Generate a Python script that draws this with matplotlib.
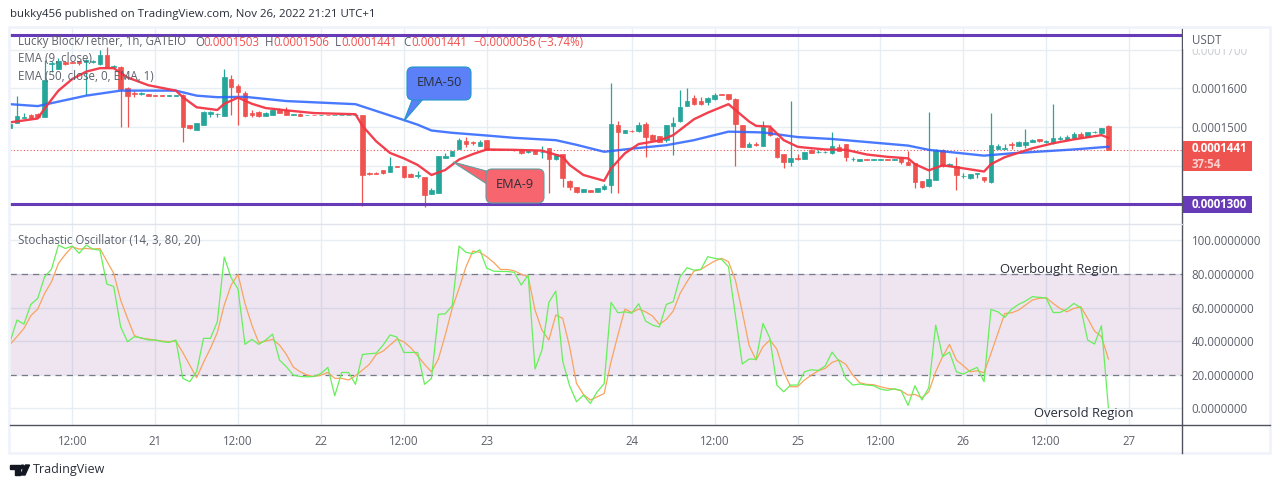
import matplotlib
matplotlib.use('Agg')
import matplotlib.pyplot as plt
from matplotlib.patches import Rectangle, FancyBboxPatch, Polygon, Circle
from matplotlib.lines import Line2D
from matplotlib.transforms import Affine2D
import numpy as np

plt.rcParams['font.family'] = ['Open Sans', 'DejaVu Sans']

# hourly candles, prices in 1e-7 USDT
opens = [1498,1511,1524,1532,1533,1527,1664,1649,1668,1668,1670,1667,1667,1663,1685,1655,1656,1602,1587,1584,
         1585,1583,1582,1581,1581,1582,1504,1493,1505,1534,1533,1529,1624,1607,1587,1537,1539,1529,1532,1545,
         1544,1532,1534,1530,1531,1530,1531,1530,1530,1530,1530,1531,1382,1382,1389,1384,1399,1399,1379,1374,
         1371,1328,1330,1421,1425,1443,1463,1461,1452,1466,1442,1442,1440,1441,1441,1435,1439,1435,1445,1417,
         1430,1361,1345,1333,1336,1333,1340,1351,1505,1485,1490,1490,1508,1480,1477,1466,1503,1515,1554,1575,
         1566,1565,1572,1584,1584,1572,1505,1449,1456,1451,1498,1472,1430,1410,1419,1418,1441,1435,1435,1434,
         1448,1456,1417,1413,1417,1416,1416,1417,1416,1422,1410,1406,1360,1348,1364,1441,1399,1399,1373,1368,
         1379,1371,1358,1443,1444,1455,1451,1454,1461,1468,1460,1458,1468,1467,1472,1482,1475,1486,1484,1503]
highs = [1508,1580,1535,1533,1537,1673,1670,1678,1669,1669,1671,1675,1672,1699,1706,1660,1657,1603,1594,1591,
         1586,1583,1583,1582,1582,1584,1505,1511,1541,1541,1537,1649,1634,1611,1594,1544,1542,1538,1546,1548,
         1551,1533,1535,1532,1532,1531,1532,1531,1531,1531,1531,1532,1383,1383,1390,1422,1400,1400,1380,1387,
         1372,1342,1426,1432,1438,1472,1473,1465,1466,1467,1443,1442,1442,1442,1442,1440,1440,1451,1446,1430,
         1431,1362,1346,1340,1337,1343,1353,1613,1515,1493,1491,1512,1512,1482,1478,1505,1527,1596,1602,1582,
         1577,1577,1587,1585,1586,1574,1506,1460,1462,1515,1505,1473,1431,1567,1429,1436,1442,1441,1437,1487,
         1456,1457,1422,1418,1418,1418,1418,1418,1418,1423,1439,1407,1361,1539,1442,1442,1408,1423,1380,1379,
         1380,1372,1536,1456,1456,1460,1464,1495,1468,1469,1466,1559,1478,1479,1487,1487,1487,1490,1498,1506]
lows = [1498,1511,1522,1523,1522,1527,1643,1649,1660,1665,1660,1583,1665,1661,1654,1652,1501,1501,1577,1583,
        1579,1581,1581,1581,1581,1462,1496,1492,1504,1527,1525,1529,1531,1505,1527,1525,1527,1528,1531,1535,
        1530,1531,1529,1530,1530,1530,1530,1530,1530,1530,1530,1296,1376,1378,1379,1383,1396,1369,1371,1367,
        1294,1328,1330,1420,1424,1443,1449,1454,1451,1440,1441,1440,1440,1439,1431,1434,1430,1421,1330,1416,
        1346,1336,1329,1332,1332,1332,1336,1330,1330,1484,1488,1487,1423,1465,1460,1462,1428,1514,1553,1558,
        1558,1558,1571,1582,1571,1398,1448,1448,1451,1450,1478,1421,1393,1400,1415,1417,1433,1434,1434,1430,
        1438,1412,1411,1412,1415,1415,1415,1415,1415,1404,1401,1343,1343,1346,1363,1396,1398,1336,1367,1366,
        1367,1358,1356,1442,1444,1442,1450,1445,1460,1460,1459,1457,1467,1466,1471,1471,1474,1485,1483,1441]
closes = [1508,1528,1525,1524,1527,1621,1666,1671,1664,1666,1665,1673,1670,1685,1654,1657,1599,1580,1586,1589,
          1580,1581,1581,1582,1582,1501,1497,1510,1540,1540,1534,1628,1603,1590,1528,1532,1528,1537,1544,1536,
          1531,1533,1529,1531,1530,1531,1530,1531,1531,1531,1531,1377,1379,1379,1380,1399,1397,1370,1372,1375,
          1324,1336,1425,1425,1437,1466,1456,1458,1462,1441,1441,1441,1441,1440,1432,1439,1431,1436,1417,1429,
          1367,1345,1332,1339,1333,1342,1348,1508,1488,1492,1489,1505,1474,1466,1462,1504,1510,1552,1566,1559,
          1559,1575,1583,1582,1572,1509,1449,1456,1454,1501,1479,1423,1410,1419,1418,1435,1434,1436,1436,1451,
          1439,1422,1418,1417,1416,1417,1417,1416,1417,1410,1402,1359,1345,1365,1441,1398,1404,1376,1374,1378,
          1380,1363,1453,1451,1445,1454,1460,1461,1467,1464,1465,1471,1472,1474,1482,1473,1486,1487,1497,1441]

# moving averages read at the bends only
ema9_bars = [0,4,5,7,9,11,13,15,17,20,24,25,27,30,31,33,35,37,40,44,50,51,53,55,57,59,61,63,65,67,69,73,77,80,81,
             83,86,87,89,91,94,96,99,101,104,105,107,108,110,112,114,115,118,121,124,127,130,131,133,135,137,141,
             142,144,148,151,154,158,159]
ema9_vals = [1512,1522,1548,1594,1624,1643,1652,1652,1628,1608,1594,1577,1551,1544,1560,1576,1560,1549,1543,1536,
             1533,1503,1463,1433,1419,1402,1376,1389,1416,1430,1442,1441,1439,1423,1402,1376,1361,1393,1432,1456,
             1465,1479,1520,1537,1559,1544,1514,1503,1501,1466,1449,1447,1442,1441,1429,1423,1419,1404,1388,1401,
             1396,1385,1404,1422,1445,1458,1468,1479,1472]
ema50_bars = [0,4,11,16,24,27,30,34,40,50,57,59,61,64,69,73,79,82,86,90,95,99,104,109,114,119,130,133,141,145,154,159]
ema50_vals = [1559,1554,1581,1594,1594,1581,1577,1578,1567,1559,1518,1506,1491,1485,1478,1472,1466,1454,1436,1444,
              1453,1466,1488,1486,1474,1469,1452,1441,1426,1432,1442,1449]

stoch_k = [39.7,52.6,50.2,61.9,65.5,78.4,82.9,97.2,95.2,96.6,92.3,97.2,94.8,94.2,74.0,72.6,48.6,39.7,42.7,42.0,
           40.7,40.7,39.7,39.3,40.7,17.9,15.9,21.8,41.7,41.7,51.6,90.1,77.8,71.0,38.1,41.1,38.1,40.7,44.2,28.8,
           24.8,19.8,19.0,18.8,19.0,20.8,24.4,7.5,21.4,21.4,14.3,32.1,32.5,32.9,37.7,43.7,42.5,33.3,33.3,33.3,
           14.3,17.9,56.0,56.3,61.1,96.6,92.9,92.1,94.4,83.5,81.7,81.5,81.5,81.0,73.4,79.4,23.4,34.7,63.1,69.8,
           28.2,13.5,4.0,7.9,3.0,9.9,14.7,63.1,56.9,57.5,56.7,62.3,52.0,49.6,48.4,61.9,63.5,78.4,83.7,82.3,
           82.7,90.3,89.3,88.7,84.3,55.6,26.4,29.4,29.2,50.6,41.7,13.9,9.9,13.9,13.9,21.8,23.0,22.6,25.2,33.5,
           28.2,17.9,13.9,14.5,13.9,13.5,11.5,10.7,11.7,10.7,1.8,13.5,5.0,12.3,49.6,30.8,33.5,21.8,20.4,22.6,
           24.4,15.9,58.9,57.5,54.2,59.1,61.9,63.9,66.5,66.1,65.7,57.1,57.1,59.1,62.5,59.9,40.7,38.3,49.2,0.4]
stoch_d = [38.1,42.7,47.6,55.2,59.1,68.5,75.4,86.3,91.7,96.2,94.8,95.2,94.8,95.2,87.7,80.4,64.5,53.6,43.3,41.7,
           41.3,40.7,40.1,39.7,40.1,33.3,25.8,18.3,27.4,35.7,45.2,61.5,73.4,79.8,62.5,49.6,39.1,40.1,41.1,37.7,
           32.1,24.6,21.8,19.8,19.0,19.8,21.4,17.9,17.9,16.9,19.4,22.8,26.2,32.1,34.1,37.7,41.3,39.7,36.1,31.3,
           26.2,21.8,29.4,43.7,59.5,71.4,84.3,93.7,92.9,90.3,86.9,82.7,82.7,81.9,79.8,78.4,58.5,46.6,40.7,55.6,
           53.6,36.7,14.9,8.3,5.0,6.9,8.9,27.8,43.7,59.1,57.1,59.1,57.5,55.0,50.0,53.0,57.9,68.5,75.4,81.7,
           82.7,85.3,87.7,89.3,87.3,76.4,57.5,37.3,28.8,36.7,40.7,35.3,21.8,12.9,12.9,16.9,19.8,22.4,23.8,27.4,
           28.8,26.2,19.8,15.3,14.3,14.1,12.9,11.9,11.5,10.5,7.9,8.3,6.3,9.9,21.8,30.8,38.1,28.8,25.4,21.8,
           22.4,21.2,32.7,44.6,56.5,56.9,58.5,61.5,64.5,65.5,65.9,62.5,59.5,57.5,59.5,60.5,53.6,46.0,42.7,29.4]

time_ticks = [9,21,33,45,57,69,90,102,114,126,138,150,162]
time_labels = ['12:00','21','12:00','22','12:00','23','24','12:00','25','12:00','26','12:00','27']
price_ticks = [1700,1600,1500,1400]
stoch_ticks = [100,80,60,40,20,0]
line_top = 1739
line_bottom = 1300
last_price = 1441

GREEN = '#26a69a'
RED = '#ef5350'
GRID = '#e6edf3'
AXIS = '#50535e'
TEXT = '#5d606b'
PURPLE = '#673ab7'
LABEL_SIZE = 8.3

fig = plt.figure(figsize=(12.8, 4.88), dpi=100, facecolor='white')

# positions below are screen pixels, origin top left
px = Affine2D().scale(1, -1).translate(0, 488)


def pane(top, bottom):
    return fig.add_axes([10/1280, 1 - bottom/488, 1172/1280, (bottom - top)/488])


ax1 = pane(28, 224)
ax2 = pane(224, 425)

for ax in (ax1, ax2):
    ax.set_xlim(-0.015, 169.66)
    ax.set_xticks(time_ticks)
    ax.grid(visible=True, color=GRID, linewidth=1.0)
    ax.set_axisbelow(True)
    ax.yaxis.tick_right()
    ax.tick_params(axis='y', length=0, pad=7, labelsize=LABEL_SIZE, labelcolor=TEXT)
    for s in ('top', 'left', 'bottom'):
        ax.spines[s].set_visible(False)
    ax.spines['right'].set_color(AXIS)
    ax.spines['right'].set_linewidth(1.0)

# candles
o = np.array(opens) * 1e-7
h = np.array(highs) * 1e-7
l = np.array(lows) * 1e-7
c = np.array(closes) * 1e-7
bars = np.arange(len(o))
col = [GREEN if b >= a else RED for a, b in zip(o, c)]
ax1.vlines(bars, l, h, colors=col, linewidth=0.9, zorder=3)
ax1.bar(bars, c - o, bottom=o, width=0.66, color=col, edgecolor=col, linewidth=0.5, zorder=3)

ax1.axhline(last_price * 1e-7, color=RED, linestyle=(0, (1, 2)), linewidth=0.8, zorder=2)
ax1.plot(np.array(ema50_bars), np.array(ema50_vals) * 1e-7, color='#2962ff', linewidth=1.7, alpha=0.85, zorder=4)
ax1.plot(np.array(ema9_bars), np.array(ema9_vals) * 1e-7, color='#f23645', linewidth=1.7, alpha=0.95, zorder=5)
ax1.axhline(line_top * 1e-7, color=PURPLE, linewidth=2.2, zorder=6)
ax1.axhline(line_bottom * 1e-7, color=PURPLE, linewidth=2.2, zorder=6)

ax1.set_ylim(1249.4e-7, 1755.8e-7)
ax1.set_yticks(np.array(price_ticks) * 1e-7)
# the 1400 label sits behind the last price box
ax1.set_yticklabels(['%.7f' % (v * 1e-7) if v != 1400 else '' for v in price_ticks])
ax1.get_yticklabels()[0].set_color('#c9cbd1')
ax1.tick_params(axis='x', length=0, labelbottom=False)

# stochastic pane
ax2.axhspan(20, 80, color='#7b2d8b', alpha=0.12, linewidth=0, zorder=1)
ax2.axhline(80, color='#787b86', linestyle=(0, (5, 4)), linewidth=0.9, zorder=2)
ax2.axhline(20, color='#787b86', linestyle=(0, (5, 4)), linewidth=0.9, zorder=2)
ax2.plot(bars, stoch_d, color='#f9a45e', linewidth=0.9, zorder=3)
ax2.plot(bars, stoch_k, color='#66ef5a', linewidth=0.9, zorder=4)
ax2.set_ylim(-9.88, 109.76)
ax2.set_yticks(stoch_ticks)
ax2.set_yticklabels(['%.7f' % v for v in stoch_ticks])
ax2.set_xticklabels(time_labels)
ax2.tick_params(axis='x', length=0, pad=7, labelsize=LABEL_SIZE, labelcolor=TEXT)

# frame around the chart
fig.add_artist(Rectangle((9, 27), 1261, 426, fill=False, edgecolor='#f0f3fa', linewidth=2, transform=px, zorder=1))
fig.add_artist(Line2D([10, 1270], [425, 425], color=AXIS, linewidth=1.0, transform=px, zorder=6))
fig.add_artist(Line2D([1182, 1182], [425, 453], color=AXIS, linewidth=1.0, transform=px, zorder=6))
fig.add_artist(Line2D([10, 1182], [224, 224], color='#e0e3eb', linewidth=1.0, transform=px, zorder=6))

# price scale extras
fig.add_artist(Rectangle((1183, 29), 84, 20, color='white', linewidth=0, transform=px, zorder=7))
fig.text(1192, 40, 'USDT', color=TEXT, fontsize=LABEL_SIZE, va='center', transform=px, zorder=8)
fig.add_artist(Rectangle((1183, 141), 69, 30, color=RED, linewidth=0, transform=px, zorder=7))
fig.text(1192, 148.5, '0.0001441', color='white', fontsize=LABEL_SIZE, fontweight='bold', va='center', transform=px, zorder=8)
fig.text(1192, 164.5, '37:54', color='#fbd0cf', fontsize=LABEL_SIZE, fontweight='bold', va='center', transform=px, zorder=8)
fig.add_artist(Rectangle((1183, 196), 69, 17, color=PURPLE, linewidth=0, transform=px, zorder=7))
fig.text(1192, 205, '0.0001300', color='white', fontsize=LABEL_SIZE, fontweight='bold', va='center', transform=px, zorder=8)

# legend rows
fig.text(10, 15, 'bukky456 published on TradingView.com, Nov 26, 2022 21:21 UTC+1', color='#2a2e39',
         fontsize=8.25, va='center', transform=px)
legend_parts = [(18, 'Lucky Block/Tether, 1h, GATEIO', TEXT), (195, 'O', TEXT), (203, '0.0001503', RED), (265, 'H', TEXT),
                (273, '0.0001506', RED), (335, 'L', TEXT), (341, '0.0001441', RED), (403, 'C', TEXT),
                (411, '0.0001441', RED), (473, '\u22120.0000056', RED), (538, '(\u22123.74%)', RED)]
for x, s, colr in legend_parts:
    fig.text(x, 42, s, color=colr, fontsize=LABEL_SIZE, va='center', transform=px, zorder=8)
fig.text(18, 59, 'EMA (9, close)', color=TEXT, fontsize=LABEL_SIZE, va='center', transform=px, zorder=8)
fig.text(18, 76, 'EMA (50, close, 0, EMA, 1)', color=TEXT, fontsize=LABEL_SIZE, va='center', transform=px, zorder=8)
fig.text(18, 240, 'Stochastic Oscillator (14, 3, 80, 20)', color=TEXT, fontsize=LABEL_SIZE, va='center', transform=px, zorder=8)

# callouts
fig.add_artist(Polygon([(404, 121), (414, 95), (424, 98)], closed=True, facecolor='#5b80f8', edgecolor='#2196c8',
                       linewidth=0.8, transform=px, zorder=8))
fig.add_artist(FancyBboxPatch((410, 70), 58, 27, boxstyle='round,pad=3,rounding_size=6', facecolor='#5b80f8',
                              edgecolor='#2196c8', linewidth=0.8, transform=px, zorder=8))
fig.add_artist(Polygon([(453, 162), (490, 172), (490, 186)], closed=True, facecolor='#f7656f', edgecolor='#5f9ea0',
                       linewidth=0.8, transform=px, zorder=8))
fig.add_artist(FancyBboxPatch((489, 172), 52, 28, boxstyle='round,pad=3,rounding_size=6', facecolor='#f7656f',
                              edgecolor='#5f9ea0', linewidth=0.8, transform=px, zorder=8))
fig.text(439, 83, 'EMA-50', color='#2a2e39', fontsize=9.2, ha='center', va='center', transform=px, zorder=9)
fig.text(515, 185, 'EMA-9', color='#2a2e39', fontsize=9.2, ha='center', va='center', transform=px, zorder=9)
fig.text(1059, 269, 'Overbought Region', color='#2a2e39', fontsize=9.4, ha='center', va='center', transform=px, zorder=9)
fig.text(1084, 413, 'Oversold Region', color='#2a2e39', fontsize=9.4, ha='center', va='center', transform=px, zorder=9)

# footer logo
DARK = '#131722'
fig.add_artist(Polygon([(10, 465), (20, 465), (20, 475), (15, 475), (15, 469), (10, 469)], closed=True, color=DARK,
                       transform=px, zorder=8))
fig.add_artist(Circle((22.5, 467), 1.9, color=DARK, transform=px, zorder=8))
fig.add_artist(Polygon([(25.5, 465), (29.5, 465), (25, 475), (20.5, 475)], closed=True, color=DARK, transform=px, zorder=8))
fig.text(33, 470, 'TradingView', color='#2a2e39', fontsize=9.0, va='center', transform=px, zorder=8)

fig.savefig('out.png', dpi=100)
